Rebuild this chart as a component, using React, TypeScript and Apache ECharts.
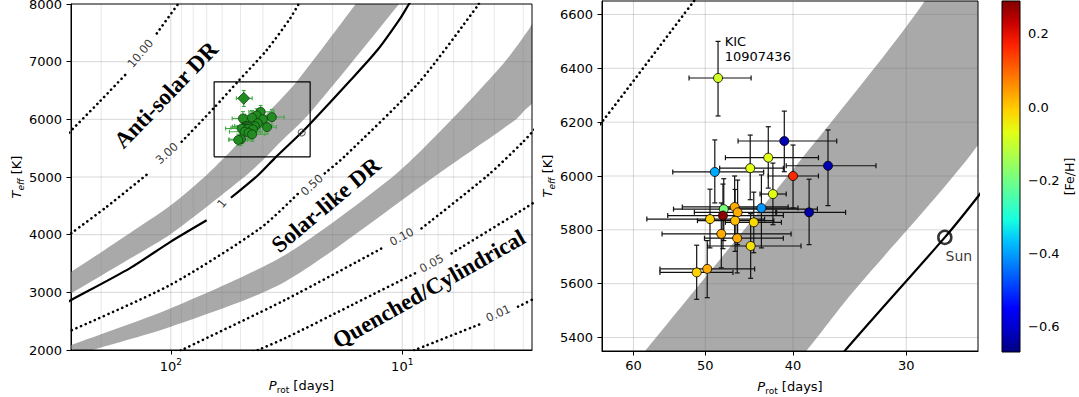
import React, { useEffect, useRef } from "react";
import * as echarts from "echarts";

const SANS = "DejaVu Sans";
const SERIF = "Liberation Serif";

// ---------- axes ----------
const leftProtRange = [2.75, 270];
const leftTeffRange = [2000, 8000];
const rightProtRange = [25, 65];
const rightTeffRange = [5350, 6650];
const fehRange = [-0.67, 0.29];

const leftMinorProt = [3, 4, 5, 6, 7, 8, 9, 20, 30, 40, 50, 60, 70, 80, 90, 200];
const leftMajorProt = [10, 100];
const leftTeffGrid = [3000, 4000, 5000, 6000, 7000];
const rightProtTicks = [30, 40, 50, 60];
const rightTeffTicks = [5400, 5600, 5800, 6000, 6200, 6400, 6600];
const fehTicks = [-0.6, -0.4, -0.2, 0, 0.2];

// ---------- contour lines [Prot (days), Teff (K)]; "-" = gap of the inline label ----------
const contour10 = [[275, 5770], [205, 6290], [157.5, 6770], "-", [115, 7490], [93, 8000], [90, 8060]];
const contour3 = [[280, 3971], [269.5, 4023], [189, 4485], [125, 5064], "-", [89.7, 5612], [65.0, 6201], [51.4, 6652], [38.5, 7202], [30.5, 7752], [28.0, 8000], [27.3, 8060]];
const contour1 = [[280, 2830], [269.5, 2867], [150, 3420], [100, 3880], [70, 4250], "-", [55, 4640], [41.9, 5035], [35.1, 5349], [27.2, 5772], [25.0, 5924], [16.7, 6682], [12.8, 7202], [10.2, 7752], [9.35, 8000], [9.1, 8060]];
const contour05 = [[280, 2310], [100.7, 3127], [41.1, 4110], [28.1, 4717], "-", [21.6, 5064], [17.8, 5352], [8.53, 6625], [4.7, 7982], [4.6, 8060]];
const contour01 = [[95, 1950], [89.7, 2000], [32.1, 2867], [11.9, 3791], "-", [8.25, 4110], [4.25, 5035], [3.0, 5612], [2.65, 5850]];
const contour005 = [[44, 1950], [41.9, 2000], [32.1, 2203], [16.5, 2780], [8.53, 3358], "-", [6.12, 3677], [2.95, 4457], [2.65, 4580]];
const contour001 = [[9.3, 1950], [8.8, 2000], [4.48, 2468], "-", [3.16, 2751], [2.6, 2920]];

// ---------- transition bands ----------
const band1Upper = [[285, 3320], [269.5, 3357], [150, 4030], [100, 4510], [70, 5035], [58.3, 5349], [34.7, 6282], [28.6, 6652], [16.0, 7982], [15.6, 8060]];
const band1Lower = [[285, 2950], [269.5, 2983], [150, 3585], [100, 4010], [47.0, 5035], [38.7, 5349], [34.65, 5554], [25.0, 6115], [10.4, 7982], [10.1, 8060]];
const band2Upper = [[290, 2060], [269.5, 2087], [100, 2723], [32.1, 3647], [10.76, 5035], [6.1, 6000], [3.6, 7000], [2.85, 7549], [2.6, 7800]];
const band2Lower = [[235, 1960], [219, 2000], [100, 2404], [32.1, 3184], [7.1, 5035], [3.25, 5988], [2.95, 6162], [2.6, 6400]];

// ---------- contour labels ----------
const contourLabelText = ["10.00", "3.00", "1", "0.50", "0.10", "0.05", "0.01"];
const contourLabelProt = [135.6, 104.1, 60.2, 24.6, 10.06, 7.47, 3.85];
const contourLabelTeff = [7145, 5411, 4544, 4861, 3965, 3503, 2636];
const contourLabelAngle = [50, 42, 50, 42, 28, 29, 25];

// ---------- stars ----------
const starProt = [40.9, 42.6, 44.6, 48.8, 40.0, 36.6, 42.1, 43.35, 38.4, 47.7, 47.8, 46.4, 46.05, 49.4, 46.35, 44.2, 48.0, 46.1, 44.55, 49.75, 51.1];
const starTeff = [6130, 6068, 6029, 6015, 6000, 6038, 5933, 5881, 5865, 5877, 5853, 5885, 5865, 5840, 5834, 5828, 5785, 5769, 5740, 5655, 5642];
const starFeH = [-0.63, -0.07, -0.07, -0.39, 0.165, -0.63, -0.07, -0.41, -0.64, -0.19, 0.28, 0.03, 0.03, -0.01, 0.01, -0.02, 0.03, 0.03, -0.03, 0.03, -0.01];
const starProtHi = [46.0, 47.5, 48.2, 54.3, 42.6, 40.7, 43.5, 47.5, 41.7, 54.2, 55.0, 53.0, 51.4, 58.0, 51.0, 47.5, 55.8, 50.1, 49.7, 56.1, 56.1];
const starProtLo = [35.8, 37.5, 41.0, 43.1, 37.5, 32.4, 40.7, 39.5, 35.0, 37.6, 41.0, 40.5, 41.8, 43.0, 42.0, 41.2, 40.2, 41.0, 39.2, 44.1, 46.6];
const starTeffHi = [6241, 6183, 6152, 6134, 6115, 6171, 6048, 6004, 5988, 5990, 5970, 6000, 5985, 5951, 5950, 5940, 5900, 5880, 5860, 5760, 5743];
const starTeffLo = [6016, 5955, 5912, 5900, 5881, 5890, 5819, 5733, 5745, 5760, 5730, 5770, 5745, 5733, 5720, 5715, 5659, 5640, 5620, 5548, 5542];

const kicProt = [48.4];
const kicTeff = [6364];
const kicFeH = [-0.09];
const kicProtHi = [52.1];
const kicProtLo = [44.5];
const kicTeffHi = [6500];
const kicTeffLo = [6223];

const sunProt = 27.2;
const sunTeff = 5772;

const jet = ["#000080", "#0000c8", "#0000ff", "#0040ff", "#0080ff", "#00bfff", "#15ffe2", "#48ffaf", "#7bff7b", "#afff48", "#e2ff15", "#ffd200", "#ff9700", "#ff5c00", "#ff2100", "#c80000", "#800000"];

const BAND = "#a9a9a9";
const GRID_MAJOR = "rgba(110,110,110,0.3)";
const GRID_MINOR = "rgba(110,110,110,0.18)";

function buildOption() {
  const series: any[] = [];

  const gridLineRender = (params: any, api: any) => {
    const cs = params.coordSys;
    const kind = api.value(2);
    const pt = api.coord([api.value(0), api.value(1)]);
    const color = kind === 0 ? GRID_MINOR : GRID_MAJOR;
    if (kind < 2) {
      return { type: "line", shape: { x1: pt[0], y1: cs.y, x2: pt[0], y2: cs.y + cs.height }, style: { stroke: color, lineWidth: 0.9 }, silent: true };
    }
    return { type: "line", shape: { x1: cs.x, y1: pt[1], x2: cs.x + cs.width, y2: pt[1] }, style: { stroke: color, lineWidth: 0.9 }, silent: true };
  };

  const frameRender = (params: any) => {
    const cs = params.coordSys;
    return { type: "rect", shape: { x: cs.x, y: cs.y, width: cs.width, height: cs.height }, style: { fill: "none", stroke: "#000", lineWidth: 1 }, silent: true };
  };

  const bandRender = (upper: number[][], lower: number[][]) => (params: any, api: any) => {
    const pts = upper.map((d) => api.coord(d)).concat(lower.slice().reverse().map((d) => api.coord(d)));
    return { type: "polygon", shape: { points: pts, smooth: 0.25 }, style: { fill: BAND }, silent: true };
  };

  const errRender = (color: string, cap: number, lw: number) => (params: any, api: any) => {
    const p = api.value(0), t = api.value(1);
    const c = api.coord([p, t]);
    const xa = api.coord([api.value(2), t])[0];
    const xb = api.coord([api.value(3), t])[0];
    const ya = api.coord([p, api.value(4)])[1];
    const yb = api.coord([p, api.value(5)])[1];
    const st = { stroke: color, lineWidth: lw };
    return {
      type: "group",
      children: [
        { type: "line", shape: { x1: xa, y1: c[1], x2: xb, y2: c[1] }, style: st },
        { type: "line", shape: { x1: xa, y1: c[1] - cap, x2: xa, y2: c[1] + cap }, style: st },
        { type: "line", shape: { x1: xb, y1: c[1] - cap, x2: xb, y2: c[1] + cap }, style: st },
        { type: "line", shape: { x1: c[0], y1: ya, x2: c[0], y2: yb }, style: st },
        { type: "line", shape: { x1: c[0] - cap, y1: ya, x2: c[0] + cap, y2: ya }, style: st },
        { type: "line", shape: { x1: c[0] - cap, y1: yb, x2: c[0] + cap, y2: yb }, style: st },
      ],
    };
  };

  const starErrData = starProt.map((p, i) => [p, starTeff[i], starProtHi[i], starProtLo[i], starTeffHi[i], starTeffLo[i]]);
  const kicErrData = kicProt.map((p, i) => [p, kicTeff[i], kicProtHi[i], kicProtLo[i], kicTeffHi[i], kicTeffLo[i]]);

  const dotted = { color: "#000", width: 2.6, type: [0.1, 4.9], cap: "round" };
  const contours = [contour10, contour3, contour05, contour01, contour005, contour001];

  for (let g = 0; g < 2; g++) {
    const axes = { xAxisIndex: g, yAxisIndex: g };
    const gl: number[][] = [];
    if (g === 0) {
      leftMinorProt.forEach((v) => gl.push([v, leftTeffRange[0], 0]));
      leftMajorProt.forEach((v) => gl.push([v, leftTeffRange[0], 1]));
      leftTeffGrid.forEach((v) => gl.push([leftProtRange[0], v, 2]));
    } else {
      rightProtTicks.forEach((v) => gl.push([v, rightTeffRange[0], 1]));
      rightTeffTicks.forEach((v) => gl.push([rightProtRange[0], v, 2]));
    }
    series.push({ type: "custom", ...axes, z: 2, clip: true, silent: true, renderItem: gridLineRender, data: gl });
    const anchor = g === 0 ? [100, 5000] : [40, 6000];
    series.push({ type: "custom", ...axes, z: 1, clip: true, silent: true, renderItem: bandRender(band1Upper, band1Lower), data: [anchor] });
    series.push({ type: "custom", ...axes, z: 1, clip: true, silent: true, renderItem: bandRender(band2Upper, band2Lower), data: [anchor] });
    contours.forEach((c) => {
      series.push({ type: "line", ...axes, z: 3, data: c, showSymbol: false, symbol: "none", smooth: 0.25, lineStyle: dotted, clip: true, silent: true, connectNulls: false });
    });
    series.push({ type: "line", ...axes, z: 3, data: contour1, showSymbol: false, symbol: "none", smooth: 0.25, lineStyle: { color: "#000", width: 2.2 }, clip: true, silent: true, connectNulls: false });
  }

  // ----- left panel extras -----
  series.push({
    type: "line", xAxisIndex: 0, yAxisIndex: 0, z: 4, symbol: "none", silent: true,
    lineStyle: { color: "#000", width: 1.2 },
    data: [[rightProtRange[1], rightTeffRange[0]], [rightProtRange[0], rightTeffRange[0]], [rightProtRange[0], rightTeffRange[1]], [rightProtRange[1], rightTeffRange[1]], [rightProtRange[1], rightTeffRange[0]]],
  });
  series.push({ type: "custom", xAxisIndex: 0, yAxisIndex: 0, z: 5, silent: true, renderItem: errRender("#45a845", 2, 1.1), data: starErrData.concat(kicErrData) });
  series.push({
    type: "scatter", xAxisIndex: 0, yAxisIndex: 0, z: 6, silent: true, symbol: "circle", symbolSize: 9,
    itemStyle: { color: "#228b22", borderColor: "#0d3b0d", borderWidth: 0.8, opacity: 1 },
    data: starProt.map((p, i) => [p, starTeff[i]]),
  });
  series.push({
    type: "scatter", xAxisIndex: 0, yAxisIndex: 0, z: 6, silent: true, symbol: "diamond", symbolSize: 12,
    itemStyle: { color: "#228b22", borderColor: "#0d3b0d", borderWidth: 0.8, opacity: 1 },
    data: kicProt.map((p, i) => [p, kicTeff[i]]),
  });
  series.push({
    type: "scatter", xAxisIndex: 0, yAxisIndex: 0, z: 6, silent: true, symbol: "circle", symbolSize: 7,
    itemStyle: { color: "rgba(0,0,0,0)", borderColor: "#444", borderWidth: 1.1 },
    data: [[sunProt, sunTeff]],
  });
  series.push({
    type: "scatter", xAxisIndex: 0, yAxisIndex: 0, z: 6, silent: true, symbol: "circle", symbolSize: 2,
    itemStyle: { color: "#444" },
    data: [[sunProt, sunTeff]],
  });
  series.push({
    type: "scatter", xAxisIndex: 0, yAxisIndex: 0, z: 7, silent: true, symbolSize: 1,
    itemStyle: { color: "rgba(255,255,255,0)", borderWidth: 0 },
    label: { show: true, position: "inside", color: "#000", fontFamily: SANS, fontSize: 11.5 },
    data: contourLabelText.map((t, i) => ({
      value: [contourLabelProt[i], contourLabelTeff[i]],
      label: { show: true, formatter: t, rotate: contourLabelAngle[i], color: "#000" },
    })),
  });

  // ----- right panel extras -----
  series.push({ type: "custom", xAxisIndex: 1, yAxisIndex: 1, z: 5, silent: true, clip: true, renderItem: errRender("#111", 2.5, 1.2), data: starErrData.concat(kicErrData) });
  const rightScatterIdx = series.length;
  series.push({
    type: "scatter", xAxisIndex: 1, yAxisIndex: 1, z: 6, silent: true, symbol: "circle", symbolSize: 9,
    itemStyle: { borderColor: "#000", borderWidth: 0.8, opacity: 1 },
    data: starProt.map((p, i) => [p, starTeff[i], starFeH[i]]),
  });
  const kicScatterIdx = series.length;
  series.push({
    type: "scatter", xAxisIndex: 1, yAxisIndex: 1, z: 6, silent: true, symbol: "circle", symbolSize: 9,
    itemStyle: { borderColor: "#000", borderWidth: 0.8, opacity: 1 },
    label: {
      show: true, formatter: "KIC\n10907436", position: [11.6, -38.7], align: "left", verticalAlign: "top",
      lineHeight: 15, fontFamily: SANS, fontSize: 13, color: "#000",
    },
    data: kicProt.map((p, i) => [p, kicTeff[i], kicFeH[i]]),
  });
  series.push({
    type: "scatter", xAxisIndex: 1, yAxisIndex: 1, z: 6, silent: true, symbol: "circle", symbolSize: 13,
    itemStyle: { color: "rgba(0,0,0,0)", borderColor: "#000", borderWidth: 2.5 },
    label: { show: true, formatter: "Sun", position: "bottom", distance: 4, offset: [14, 0], fontFamily: SANS, fontSize: 14, color: "#000" },
    data: [[sunProt, sunTeff]],
  });

  series.push({ type: "custom", xAxisIndex: 0, yAxisIndex: 0, z: 20, clip: false, silent: true, renderItem: frameRender, data: [[100, 5000]] });
  series.push({ type: "custom", xAxisIndex: 1, yAxisIndex: 1, z: 20, clip: false, silent: true, renderItem: frameRender, data: [[40, 6000]] });

  const labelBase = { color: "#000", fontFamily: SANS, fontSize: 13 };
  const tick = { show: true, inside: false, length: 4.5, lineStyle: { color: "#000", width: 1 } };
  const axisLine = { show: true, lineStyle: { color: "#000", width: 1 } };
  const nameRich = {
    i: { fontFamily: SANS, fontSize: 13, fontStyle: "italic", lineHeight: 18, color: "#000" },
    si: { fontFamily: SANS, fontSize: 9, fontStyle: "italic", verticalAlign: "bottom", lineHeight: 12, color: "#000" },
    s: { fontFamily: SANS, fontSize: 9, verticalAlign: "bottom", lineHeight: 12, color: "#000" },
    n: { fontFamily: SANS, fontSize: 13, lineHeight: 18, color: "#000" },
  };
  const teffName = "{i|T}{si|eff}{n| [K]}";
  const protName = "{i|P}{s|rot}{n| [days]}";

  const fehFmt = (v: number) => (v < -1e-9 ? "\u2212" : "") + Math.abs(v).toFixed(1);
  const plainFmt = (v: number) => String(Math.round(v));

  return {
    animation: false,
    backgroundColor: "#fff",
    grid: [
      { left: 71, top: 4, width: 461, height: 346, outerBoundsMode: "none" },
      { left: 602, top: 1, width: 376, height: 350, outerBoundsMode: "none" },
      { left: 1002, top: 1, width: 18, height: 351, outerBoundsMode: "none" },
    ],
    xAxis: [
      {
        gridIndex: 0, type: "log", logBase: 10, min: leftProtRange[0], max: leftProtRange[1], inverse: true,
        axisLine, axisTick: { ...tick, customValues: leftMajorProt }, splitLine: { show: false },
        axisLabel: {
          ...labelBase, margin: 7, customValues: leftMajorProt,
          formatter: (v: number) => {
            const e = Math.log10(v);
            const r = Math.round(e);
            if (Math.abs(e - r) > 1e-6) return "";
            return `{b|10}{sup|${r}}`;
          },
          rich: {
            b: { fontFamily: SANS, fontSize: 13, lineHeight: 18, color: "#000" },
            sup: { fontFamily: SANS, fontSize: 9, verticalAlign: "top", lineHeight: 10, color: "#000" },
          },
        },
        name: protName, nameLocation: "middle", nameGap: 26, nameTextStyle: { ...labelBase, rich: nameRich },
      },
      {
        gridIndex: 1, type: "log", logBase: 10, min: rightProtRange[0], max: rightProtRange[1], inverse: true,
        axisLine, axisTick: { ...tick, customValues: rightProtTicks }, splitLine: { show: false },
        axisLabel: { ...labelBase, margin: 8, customValues: rightProtTicks, formatter: plainFmt },
        name: protName, nameLocation: "middle", nameGap: 26, nameTextStyle: { ...labelBase, rich: nameRich },
      },
      { gridIndex: 2, type: "value", min: 0, max: 1, show: false },
    ],
    yAxis: [
      {
        gridIndex: 0, type: "value", min: leftTeffRange[0], max: leftTeffRange[1], interval: 1000,
        axisLine, axisTick: tick, splitLine: { show: false },
        axisLabel: { ...labelBase, margin: 9, formatter: plainFmt },
        name: teffName, nameLocation: "middle", nameGap: 45, nameRotate: 90, nameTextStyle: { ...labelBase, rich: nameRich },
      },
      {
        gridIndex: 1, type: "value", min: rightTeffRange[0], max: rightTeffRange[1],
        axisLine, axisTick: { ...tick, customValues: rightTeffTicks }, splitLine: { show: false },
        axisLabel: { ...labelBase, margin: 9, customValues: rightTeffTicks, formatter: plainFmt },
        name: teffName, nameLocation: "middle", nameGap: 45, nameRotate: 90, nameTextStyle: { ...labelBase, rich: nameRich },
      },
      {
        gridIndex: 2, type: "value", min: fehRange[0], max: fehRange[1], position: "right",
        axisLine: { show: false }, axisTick: { ...tick, customValues: fehTicks }, splitLine: { show: false },
        axisLabel: { ...labelBase, margin: 8, customValues: fehTicks, formatter: fehFmt },
        name: "[Fe/H]", nameLocation: "middle", nameGap: 43, nameRotate: 90, nameTextStyle: { ...labelBase, fontSize: 12.5 },
      },
    ],
    visualMap: {
      type: "continuous", show: false, dimension: 2, min: fehRange[0], max: fehRange[1],
      seriesIndex: [rightScatterIdx, kicScatterIdx], inRange: { color: jet },
    },
    graphic: [
      {
        type: "rect", z: 10, silent: true,
        shape: { x: 1002, y: 1, width: 18, height: 351 },
        style: {
          fill: new echarts.graphic.LinearGradient(0, 0, 0, 1, jet.slice().reverse().map((c, i) => ({ offset: i / (jet.length - 1), color: c }))),
          stroke: "#000", lineWidth: 1,
        },
      },
      { type: "text", z: 30, silent: true, x: 166, y: 95, rotation: (46 * Math.PI) / 180, style: { text: "Anti-solar DR", fontFamily: SERIF, fontWeight: "bold", fontSize: 23, fill: "#000", align: "center", verticalAlign: "middle" } },
      { type: "text", z: 30, silent: true, x: 326, y: 205, rotation: (40 * Math.PI) / 180, style: { text: "Solar-like DR", fontFamily: SERIF, fontWeight: "bold", fontSize: 23, fill: "#000", align: "center", verticalAlign: "middle" } },
      { type: "text", z: 30, silent: true, x: 429, y: 289, rotation: (29.5 * Math.PI) / 180, style: { text: "Quenched/Cylindrical", fontFamily: SERIF, fontWeight: "bold", fontSize: 23, fill: "#000", align: "center", verticalAlign: "middle" } },
    ],
    series,
  };
}

export default function App() {
  const ref = useRef<HTMLDivElement>(null);
  useEffect(() => {
    if (!ref.current) return;
    const chart = echarts.init(ref.current, null, { renderer: "svg" });
    chart.setOption(buildOption() as any);
    return () => chart.dispose();
  }, []);
  return <div ref={ref} style={{ position: "absolute", left: 0, top: 0, width: 1079, height: 397, background: "#fff" }} />;
}
